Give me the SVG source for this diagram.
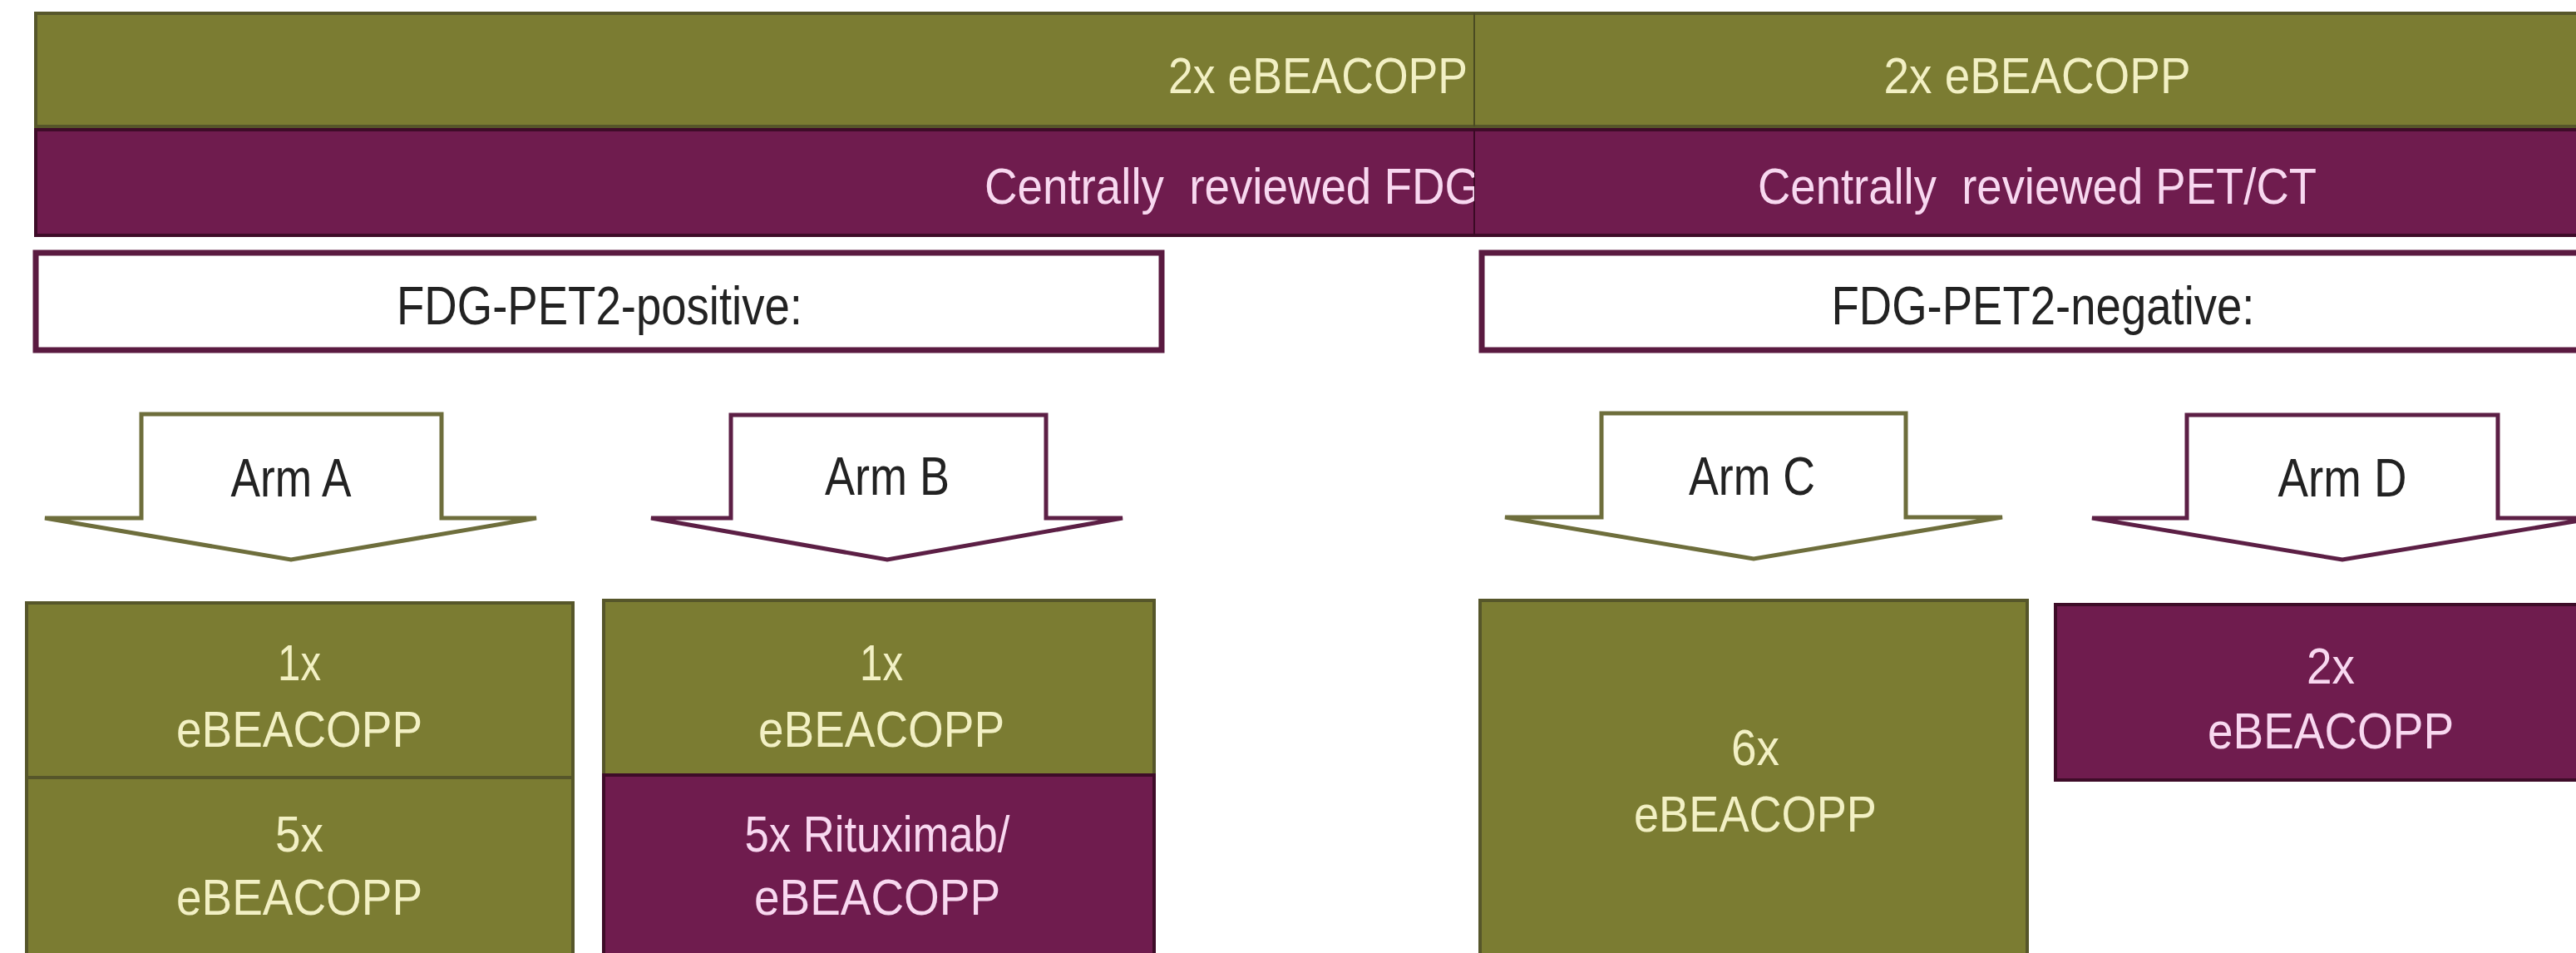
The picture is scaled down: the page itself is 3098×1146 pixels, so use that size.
<svg xmlns="http://www.w3.org/2000/svg" width="3098" height="1146" viewBox="0 0 3098 1146">
<defs>
<style>
text{font-family:"Liberation Sans",Arial,sans-serif;}
.olive{fill:#7b7c32;stroke:#56562a;stroke-width:4;}
.purple{fill:#6f1c4e;stroke:#3e0c28;stroke-width:4;}
.white{fill:#ffffff;stroke:#5a1a40;stroke-width:7;}
.ot{fill:#f2f0c4;font-size:61px;text-anchor:middle;}
.pt{fill:#f8d8f0;font-size:61px;text-anchor:middle;}
.bt{fill:#222222;font-size:64px;text-anchor:middle;}
.arrO{fill:#ffffff;stroke:#6e6e3c;stroke-width:5;stroke-linejoin:miter;}
.arrP{fill:#ffffff;stroke:#5c1f45;stroke-width:5;stroke-linejoin:miter;}
</style>
<clipPath id="leftHalf"><rect x="0" y="0" width="1773" height="300"/></clipPath>
</defs>
<rect x="0" y="0" width="3098" height="1146" fill="#ffffff"/>

<g id="cycles-bar">
<rect class="olive" x="43" y="16" width="3080" height="136"/>
<line x1="1773" y1="16" x2="1773" y2="152" stroke="#4a4a22" stroke-width="2"/>
<text class="ot" x="1585" y="112" textLength="360" lengthAdjust="spacingAndGlyphs" clip-path="url(#leftHalf)">2x eBEACOPP</text>
<text class="ot" x="2450" y="112" textLength="369" lengthAdjust="spacingAndGlyphs">2x eBEACOPP</text>
</g>

<g id="review-bar">
<rect class="purple" x="43" y="156" width="3080" height="127"/>
<line x1="1773" y1="156" x2="1773" y2="283" stroke="#3a0a24" stroke-width="2"/>
<text class="pt" x="1482" y="245" textLength="596" lengthAdjust="spacingAndGlyphs" xml:space="preserve" clip-path="url(#leftHalf)">Centrally  reviewed FDG</text>
<text class="pt" x="2450" y="245" textLength="672" lengthAdjust="spacingAndGlyphs" xml:space="preserve">Centrally  reviewed PET/CT</text>
</g>

<g id="pet2-positive">
<rect class="white" x="43" y="304" width="1354" height="117"/>
<text class="bt" x="721" y="390" textLength="488" lengthAdjust="spacingAndGlyphs">FDG-PET2-positive:</text>
</g>

<g id="pet2-negative">
<rect class="white" x="1782" y="304" width="1360" height="117"/>
<text class="bt" x="2457" y="390" textLength="509" lengthAdjust="spacingAndGlyphs">FDG-PET2-negative:</text>
</g>

<g id="connectors">
<g id="arm-a">
<path class="arrO" d="M170,498 H531 V623 H645 L350,673 L54,623 H170 Z"/>
<text class="bt" x="350" y="597" textLength="145" lengthAdjust="spacingAndGlyphs">Arm A</text>
</g>
<g id="arm-b">
<path class="arrP" d="M879,499 H1258 V623 H1350 L1067,673 L783,623 H879 Z"/>
<text class="bt" x="1067" y="595" textLength="150" lengthAdjust="spacingAndGlyphs">Arm B</text>
</g>
<g id="arm-c">
<path class="arrO" d="M1926,497 H2292 V622 H2408 L2109,672 L1810,622 H1926 Z"/>
<text class="bt" x="2107" y="595" textLength="152" lengthAdjust="spacingAndGlyphs">Arm C</text>
</g>
<g id="arm-d">
<path class="arrP" d="M2630,499 H3004 V623 H3120 L2817,673 L2516,623 H2630 Z"/>
<text class="bt" x="2817" y="597" textLength="155" lengthAdjust="spacingAndGlyphs">Arm D</text>
</g>
</g>

<g id="arm-a-1x">
<rect class="olive" x="32" y="725" width="657" height="210"/>
<text class="ot" x="360" y="818" textLength="52" lengthAdjust="spacingAndGlyphs">1x</text>
<text class="ot" x="360" y="898" textLength="296" lengthAdjust="spacingAndGlyphs">eBEACOPP</text>
</g>
<g id="arm-a-5x">
<rect class="olive" x="32" y="935" width="657" height="220"/>
<text class="ot" x="360" y="1024" textLength="58" lengthAdjust="spacingAndGlyphs">5x</text>
<text class="ot" x="360" y="1100" textLength="296" lengthAdjust="spacingAndGlyphs">eBEACOPP</text>
</g>

<g id="arm-b-1x">
<rect class="olive" x="726" y="722" width="662" height="210"/>
<text class="ot" x="1060" y="818" textLength="52" lengthAdjust="spacingAndGlyphs">1x</text>
<text class="ot" x="1060" y="898" textLength="296" lengthAdjust="spacingAndGlyphs">eBEACOPP</text>
</g>
<g id="arm-b-5x">
<rect class="purple" x="726" y="932" width="662" height="223"/>
<text class="pt" x="1055" y="1024" textLength="319" lengthAdjust="spacingAndGlyphs">5x Rituximab/</text>
<text class="pt" x="1055" y="1100" textLength="296" lengthAdjust="spacingAndGlyphs">eBEACOPP</text>
</g>

<g id="arm-c-6x">
<rect class="olive" x="1780" y="722" width="658" height="433"/>
<text class="ot" x="2111" y="920" textLength="58" lengthAdjust="spacingAndGlyphs">6x</text>
<text class="ot" x="2111" y="1000" textLength="292" lengthAdjust="spacingAndGlyphs">eBEACOPP</text>
</g>

<g id="arm-d-2x">
<rect class="purple" x="2472" y="727" width="670" height="211"/>
<text class="pt" x="2803" y="822" textLength="58" lengthAdjust="spacingAndGlyphs">2x</text>
<text class="pt" x="2803" y="900" textLength="296" lengthAdjust="spacingAndGlyphs">eBEACOPP</text>
</g>
</svg>
